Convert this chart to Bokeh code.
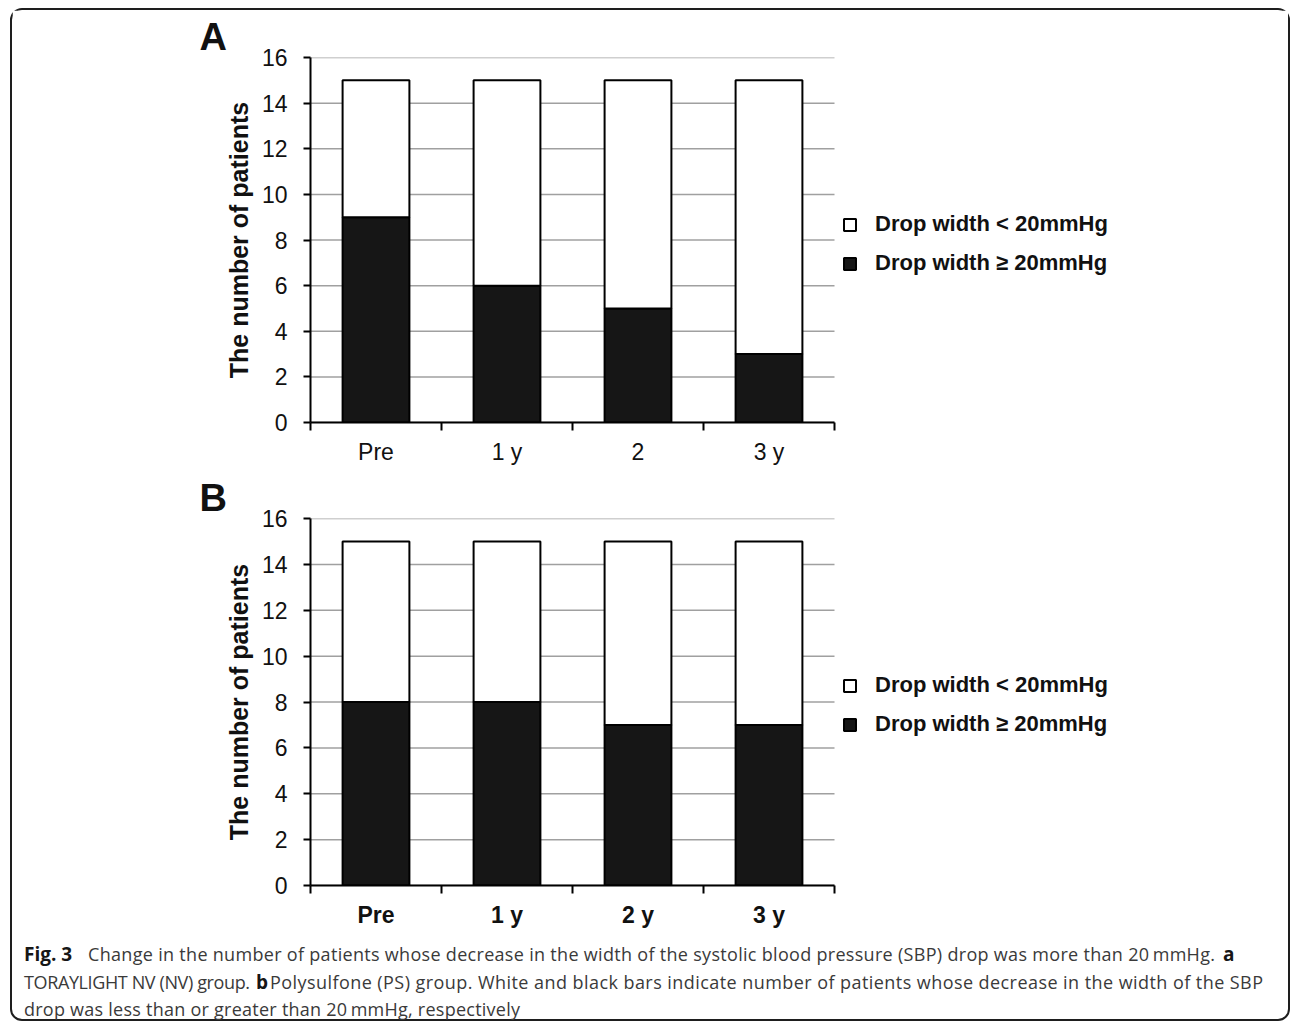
from bokeh.plotting import figure
from bokeh.models import Range1d, FixedTicker, Legend, LegendItem, Title, ColumnDataSource, Div
from bokeh.layouts import column
from bokeh.embed import file_html
from bokeh.resources import INLINE

# ---- data ----
categories_a = ["Pre", "1 y", "2", "3 y"]
categories_b = ["Pre", "1 y", "2 y", "3 y"]
drop_ge20_a = [9, 6, 5, 3]      # black segments (panel A)
drop_lt20_a = [6, 9, 10, 12]    # white segments (panel A)
drop_ge20_b = [8, 8, 7, 7]      # black segments (panel B)
drop_lt20_b = [7, 7, 8, 8]      # white segments (panel B)
y_ticks = [0, 2, 4, 6, 8, 10, 12, 14, 16]
legend_labels = ["Drop width < 20mmHg", "Drop width \u2265 20mmHg"]
panel_letters = ["A", "B"]
y_title = "The number of patients"

# ---- layout constants (pixels) ----
W = 1276            # inner width of the framed figure
LEFT = 298          # left border of each chart
CHART_W = 524       # width of the bar area
FONT = "Liberation Sans"


def make_panel(letter, cats, black, white, top, frame_h, bottom, bold_x, legend_y):
    n = len(cats)
    frame_w = W - LEFT
    x_end = n * frame_w / CHART_W   # bar area occupies CHART_W pixels, legend sits to its right
    p = figure(width=W, height=top + frame_h + bottom, output_backend="svg", toolbar_location=None,
               x_range=Range1d(0, x_end), y_range=Range1d(0, 16),
               min_border_left=LEFT, min_border_right=0,
               min_border_top=top, min_border_bottom=bottom)
    p.outline_line_color = None
    p.background_fill_color = "white"
    p.border_fill_color = "white"
    p.xgrid.visible = False
    p.ygrid.visible = False

    # horizontal gridlines limited to the bar area
    p.segment(x0=[0] * len(y_ticks), x1=[n] * len(y_ticks), y0=y_ticks, y1=y_ticks,
              line_color="#a0a0a0", line_width=1.5, level="underlay")

    xs = [i + 0.5 for i in range(n)]
    totals = [b + w for b, w in zip(black, white)]
    src = ColumnDataSource(dict(x=xs, black=black, total=totals))

    r_black = p.vbar(x="x", width=0.51, bottom=0, top="black", source=src,
                     fill_color="#161616", line_color="#000000", line_width=2)
    r_white = p.vbar(x="x", width=0.51, bottom="black", top="total", source=src,
                     fill_color="#ffffff", line_color="#000000", line_width=2)

    # x axis: ticks on category boundaries (minor), labels at centres
    xa = p.xaxis[0]
    xa.bounds = (0, n)
    xa.ticker = FixedTicker(ticks=xs, minor_ticks=list(range(n + 1)))
    xa.major_label_overrides = {x: c for x, c in zip(xs, cats)}
    xa.major_tick_line_color = None
    xa.major_tick_out = 0
    xa.major_tick_in = 0
    xa.minor_tick_out = 8
    xa.minor_tick_in = 0
    xa.minor_tick_line_width = 2
    xa.minor_tick_line_color = "#000000"
    xa.axis_line_width = 2
    xa.axis_line_color = "#000000"
    xa.major_label_text_font = FONT
    xa.major_label_text_font_size = "23px"
    xa.major_label_text_color = "#111111"
    xa.major_label_text_font_style = "bold" if bold_x else "normal"
    xa.major_label_standoff = 8

    ya = p.yaxis[0]
    ya.ticker = FixedTicker(ticks=y_ticks)
    ya.major_tick_out = 7
    ya.major_tick_in = 0
    ya.major_tick_line_width = 2
    ya.major_tick_line_color = "#000000"
    ya.minor_tick_line_color = None
    ya.axis_line_width = 2
    ya.axis_line_color = "#000000"
    ya.major_label_text_font = FONT
    ya.major_label_text_font_size = "23px"
    ya.major_label_text_color = "#111111"
    ya.major_label_standoff = 16
    ya.axis_label = y_title
    ya.axis_label_text_font = FONT
    ya.axis_label_text_font_size = "25px"
    ya.axis_label_text_font_style = "bold"
    ya.axis_label_text_color = "#111111"
    ya.axis_label_standoff = 6

    legend = Legend(items=[LegendItem(label=legend_labels[0], renderers=[r_white]),
                           LegendItem(label=legend_labels[1], renderers=[r_black])],
                    location=(CHART_W + 8, legend_y), glyph_width=15, glyph_height=15,
                    label_standoff=18, spacing=13, padding=9, margin=0,
                    border_line_color=None, background_fill_alpha=0,
                    label_text_font=FONT, label_text_font_style="bold",
                    label_text_font_size="22px", label_text_color="#111111")
    p.add_layout(legend)

    p.add_layout(Title(text=letter, align="left", offset=-111, standoff=0,
                       text_font=FONT, text_font_size="38px", text_font_style="bold",
                       text_color="#111111"), "above")
    return p


pA = make_panel(panel_letters[0], categories_a, drop_ge20_a, drop_lt20_a,
                top=47, frame_h=365, bottom=52, bold_x=False, legend_y=146)
pB = make_panel(panel_letters[1], categories_b, drop_ge20_b, drop_lt20_b,
                top=44, frame_h=367, bottom=50, bold_x=True, legend_y=148)

# ---- caption (inline SVG text inside a Div) ----
# (x, baseline, text length, bold, text)
caption_parts = [
    (12, 26, None, True, "Fig. 3"),
    (76, 26, 1127, False, "Change in the number of patients whose decrease in the width of the systolic "
                          "blood pressure (SBP) drop was more than 20\u2009mmHg."),
    (1211, 26, None, True, "a"),
    (12, 54, 226, False, "TORAYLIGHT NV (NV) group."),
    (244, 54, None, True, "b"),
    (258, 54, 993, False, "Polysulfone (PS) group. White and black bars indicate number of patients "
                          "whose decrease in the width of the SBP"),
    (12, 81, 496, False, "drop was less than or greater than 20\u2009mmHg, respectively"),
]
CAP_H = 84
svg = ['<svg xmlns="http://www.w3.org/2000/svg" width="%d" height="%d" style="display:block;overflow:visible">'
       % (W, CAP_H)]
for x, yb, tl, bold, txt in caption_parts:
    style = "font-family:'Open Sans';font-size:18px;" + (
        "font-weight:bold;fill:#161616;font-size:19px" if bold else "fill:#3a3a3a")
    extra = ' textLength="%d" lengthAdjust="spacing"' % tl if tl else ""
    svg.append('<text x="%d" y="%d"%s style="%s">%s</text>' % (x, yb, extra, style, txt))
svg.append('</svg>')
caption = Div(text="".join(svg), width=W, height=CAP_H, margin=0)

layout = column(pA, pB, caption, spacing=0, margin=(8, 0, 0, 10), width=W + 4,
                styles={"border": "2px solid #1e1e1e", "border-radius": "12px",
                        "background-color": "white"})

open("out.html", "w").write(file_html(layout, INLINE))
